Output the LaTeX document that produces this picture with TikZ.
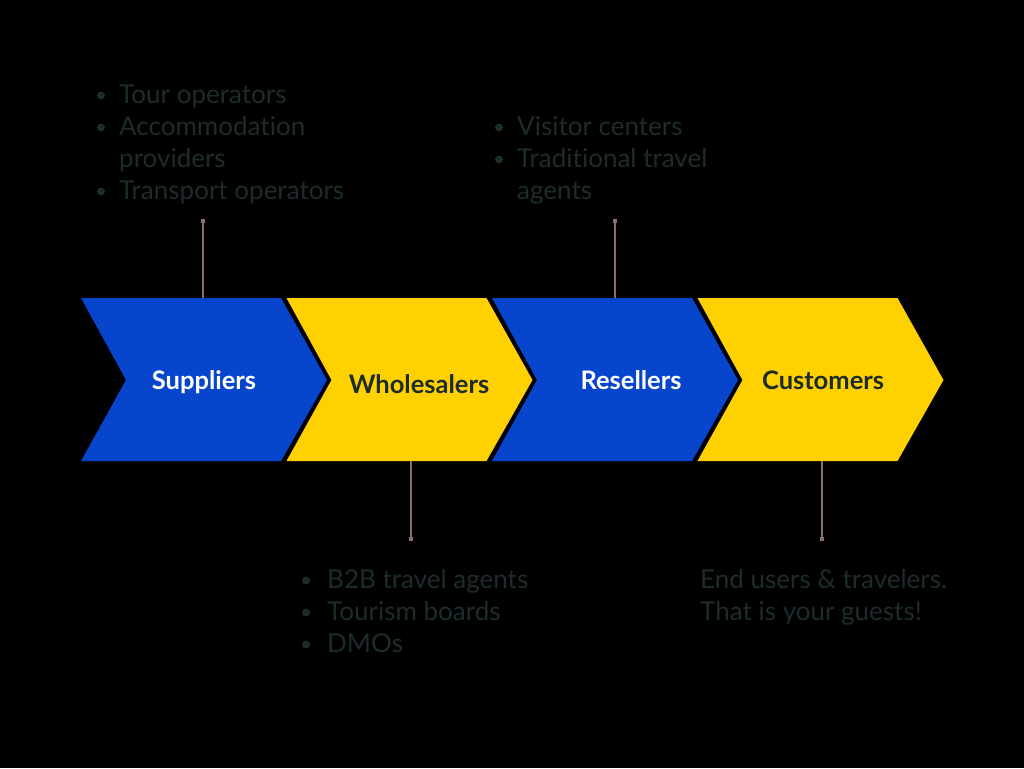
\documentclass[tikz,border=0pt]{standalone}
\usepackage{fontspec}
\setmainfont{Lato}[Ligatures=NoCommon]
\definecolor{cblue}{HTML}{0645CC}
\definecolor{cyellow}{HTML}{FFD100}
\definecolor{ink}{HTML}{1C2C2C}
\definecolor{lead}{HTML}{8A706C}
\tikzset{
  chevblue/.style={fill=cblue},
  chevyellow/.style={fill=cyellow},
  lab/.style={font=\fontsize{25.5}{30}\selectfont\bfseries, anchor=base, inner sep=0pt},
  lst/.style={font=\fontsize{26}{32}\selectfont, text=ink, anchor=base west, inner sep=0pt},
  leader/.style={draw=lead, line width=1.2pt},
  leaddot/.style={fill=lead, shape=rectangle, minimum size=3.5pt, inner sep=0pt},
  bul/.style={fill=ink}
}
\begin{document}
\begin{tikzpicture}[x=1pt,y=-1pt]
\fill[black] (0,0) rectangle (1024,768);
\useasboundingbox (0,0) rectangle (1024,768);
% chevrons
\fill[chevblue]   (81,298) -- (281,298) -- (327,380) -- (281,461) -- (81,461) -- (126,380) -- cycle;
\fill[chevyellow] (286.5,298) -- (486.5,298) -- (532.5,380) -- (486.5,461) -- (286.5,461) -- (331.5,380) -- cycle;
\fill[chevblue]   (492,298) -- (692,298) -- (738,380) -- (692,461) -- (492,461) -- (537,380) -- cycle;
\fill[chevyellow] (697.5,298) -- (897.5,298) -- (943.5,380) -- (897.5,461) -- (697.5,461) -- (742.5,380) -- cycle;
% labels
\node[lab,text=white] (sup) at (204,389) {Suppliers};
\node[lab,text=ink]   (who) at (419,393) {Wholesalers};
\node[lab,text=white] (res) at (631,389) {Resellers};
\node[lab,text=ink]   (cus) at (823,389) {Customers};
% leader lines
\coordinate (supT) at (203,298);  \coordinate (supE) at (203,221);
\coordinate (whoB) at (411,461);  \coordinate (whoE) at (411,539);
\coordinate (resT) at (615,298);  \coordinate (resE) at (615,221);
\coordinate (cusB) at (822,461);  \coordinate (cusE) at (822,539);
\draw[leader] (supT) -- (supE); \node[leaddot] (d1) at (supE) {};
\draw[leader] (whoB) -- (whoE); \node[leaddot] (d2) at (whoE) {};
\draw[leader] (resT) -- (resE); \node[leaddot] (d3) at (resE) {};
\draw[leader] (cusB) -- (cusE); \node[leaddot] (d4) at (cusE) {};
% lists
\node[lst] (list1) at (119,103) {\begin{tabular}[t]{@{}l@{}}Tour operators\\Accommodation\\providers\\Transport operators\end{tabular}};
\foreach \y in {103,135,199} \fill[bul] (101,\y-7.5) circle (4);
\node[lst] (list2) at (517,135) {\begin{tabular}[t]{@{}l@{}}Visitor centers\\Traditional travel\\agents\end{tabular}};
\foreach \y in {135,167} \fill[bul] (499,\y-7.5) circle (4);
\node[lst] (list3) at (327,588) {\begin{tabular}[t]{@{}l@{}}B2B travel agents\\Tourism boards\\DMOs\end{tabular}};
\foreach \y in {588,620,652} \fill[bul] (306,\y-7.5) circle (4);
\node[lst] (list4) at (700,588) {\begin{tabular}[t]{@{}l@{}}End users \& travelers.\\That is your guests!\end{tabular}};
\end{tikzpicture}
\end{document}
